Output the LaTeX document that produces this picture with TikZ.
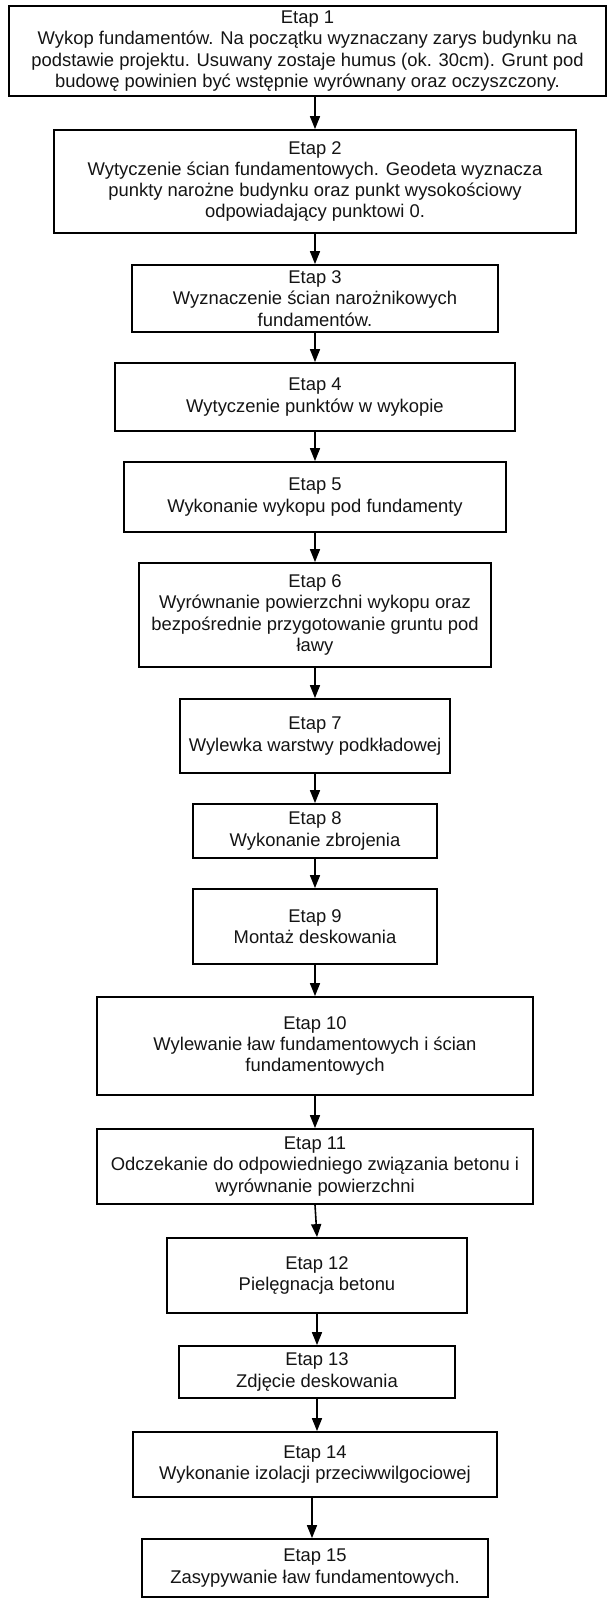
\documentclass[tikz,border=0pt]{standalone}
\usepackage{fontspec}
\setmainfont{Liberation Sans}
\usetikzlibrary{arrows.meta}
\begin{document}
\begin{tikzpicture}[x=1bp,y=-1bp,
  stepbox/.style={draw=black, line width=1.8bp, fill=white, align=center,
    inner sep=0pt, text=black!92,
    font=\fontsize{18.4bp}{21.3bp}\selectfont},
  flow/.style={draw=black, line width=1.6bp, -{Triangle[width=10bp,length=13bp]}}]
\useasboundingbox (0,0) rectangle (610,1598);
\fill[white] (0,0) rectangle (610,1598);

% stages of the foundation works
\node[stepbox, minimum width=597bp, minimum height=90bp] (b1) at (307.5,51)
  {Etap 1\\ Wykop fundamentów. Na początku wyznaczany zarys budynku na\\
   podstawie projektu. Usuwany zostaje humus (ok. 30cm). Grunt pod\\
   budowę powinien być wstępnie wyrównany oraz oczyszczony.};
\node[stepbox, minimum width=522bp, minimum height=103bp] (b2) at (315,181.5)
  {Etap 2\\ Wytyczenie ścian fundamentowych. Geodeta wyznacza\\
   punkty narożne budynku oraz punkt wysokościowy\\
   odpowiadający punktowi 0.};
\node[stepbox, minimum width=366bp, minimum height=67bp] (b3) at (315,298.5)
  {Etap 3\\ Wyznaczenie ścian narożnikowych\\ fundamentów.};
\node[stepbox, minimum width=400bp, minimum height=68bp] (b4) at (315,397)
  {Etap 4\\ Wytyczenie punktów w wykopie};
\node[stepbox, minimum width=382bp, minimum height=70bp] (b5) at (315,497)
  {Etap 5\\ Wykonanie wykopu pod fundamenty};
\node[stepbox, minimum width=352bp, minimum height=104bp] (b6) at (315,615)
  {Etap 6\\ Wyrównanie powierzchni wykopu oraz\\
   bezpośrednie przygotowanie gruntu pod\\ ławy};
\node[stepbox, minimum width=270bp, minimum height=74bp] (b7) at (315,736)
  {Etap 7\\ Wylewka warstwy podkładowej};
\node[stepbox, minimum width=244bp, minimum height=54bp] (b8) at (315,831)
  {Etap 8\\ Wykonanie zbrojenia};
\node[stepbox, minimum width=244bp, minimum height=75bp] (b9) at (315,926.5)
  {Etap 9\\ Montaż deskowania};
\node[stepbox, minimum width=436bp, minimum height=98bp] (b10) at (315,1046)
  {Etap 10\\ Wylewanie ław fundamentowych i ścian\\ fundamentowych};
\node[stepbox, minimum width=436bp, minimum height=75bp] (b11) at (315,1166.5)
  {Etap 11\\ Odczekanie do odpowiedniego związania betonu i\\
   wyrównanie powierzchni};
\node[stepbox, minimum width=300bp, minimum height=75bp] (b12) at (317,1275.5)
  {Etap 12\\ Pielęgnacja betonu};
\node[stepbox, minimum width=276bp, minimum height=52bp] (b13) at (317,1372)
  {Etap 13\\ Zdjęcie deskowania};
\node[stepbox, minimum width=364bp, minimum height=65bp] (b14) at (315,1464.5)
  {Etap 14\\ Wykonanie izolacji przeciwwilgociowej};
\node[stepbox, minimum width=346bp, minimum height=58bp] (b15) at (315,1568)
  {Etap 15\\ Zasypywanie ław fundamentowych.};

% connectors between consecutive stages
\draw[flow] (b1.south -| b2.north) -- (b2.north);
\foreach \a/\b in {b2/b3,b3/b4,b4/b5,b5/b6,b6/b7,b7/b8,b8/b9,b9/b10,b10/b11,b11/b12,b12/b13}
  \draw[flow] (\a.south) -- (\b.north);
\draw[flow] (b13.south) -- (b13.south |- b14.north);
\draw[flow] ([xshift=-3bp]b14.south) -- ([xshift=-3bp]b14.south |- b15.north);
\end{tikzpicture}
\end{document}
